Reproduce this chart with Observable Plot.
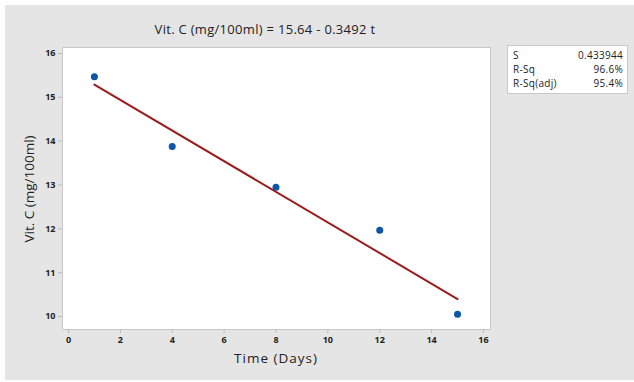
<!DOCTYPE html>
<html>
<head>
<meta charset="utf-8">
<script src="https://cdn.jsdelivr.net/npm/d3@7"></script>
<script src="https://cdn.jsdelivr.net/npm/@observablehq/plot@0.6"></script>
<style>
  html, body { margin: 0; padding: 0; background: #fff; }
  #wrap { position: relative; width: 634px; height: 382px; overflow: hidden; background: #fff; }
  #panel { position: absolute; left: 5px; top: 5px; width: 629px; height: 375px; background: #e5e5e5; }
  #chart { position: absolute; left: 0; top: 0; }
  #title { position: absolute; left: 40px; width: 450px; top: 20px; text-align: center; letter-spacing: 0.3px;
           font-family: "Open Sans", "DejaVu Sans", sans-serif; font-size: 13px; font-weight: 500; color: #222; white-space: nowrap; }
  #stats { position: absolute; left: 507px; top: 45px; width: 121px; height: 49px; background: #fff;
           border: 1px solid #c8c8c8; box-sizing: border-box; padding: 2px 4px 0 5px; letter-spacing: 0.3px;
           font-family: "Open Sans", "DejaVu Sans", sans-serif; font-size: 10px; color: #222; line-height: 14px; }
  #stats div { display: flex; justify-content: space-between; }
</style>
</head>
<body>
<div id="wrap">
  <div id="panel"></div>
  <div id="chart"></div>
  <div id="title"></div>
  <div id="stats"></div>
</div>
<script>
// Data
const days = [1, 4, 8, 12, 15];
const vitC = [15.47, 13.88, 12.95, 11.97, 10.05];
// Fitted line endpoints (Vit. C = 15.64 - 0.3492 t) at t = 1 and t = 15
const fitDays = [1, 15];
const fitVitC = [15.29, 10.40];
const xTicks = [0, 2, 4, 6, 8, 10, 12, 14, 16];
const yTicks = [10, 11, 12, 13, 14, 15, 16];
const titleText = "Vit. C (mg/100ml) = 15.64 - 0.3492 t";
const xLabel = "Time (Days)";
const yLabel = "Vit. C (mg/100ml)";
const statLabels = ["S", "R-Sq", "R-Sq(adj)"];
const statValues = ["0.433944", "96.6%", "95.4%"];

const points = days.map((d, i) => ({t: d, v: vitC[i]}));
const fit = fitDays.map((d, i) => ({t: d, v: fitVitC[i]}));

const chart = Plot.plot({
  width: 634,
  height: 382,
  marginLeft: 62,
  marginRight: 144,
  marginTop: 47,
  marginBottom: 53,
  style: {background: "transparent", fontFamily: "'Open Sans', 'DejaVu Sans', sans-serif", color: "#222"},
  x: {domain: [-0.23, 16.27], ticks: xTicks, label: null},
  y: {domain: [9.705, 16.136], ticks: yTicks, label: null},
  marks: [
    Plot.frame({fill: "white", stroke: "#c8c8c8"}),
    Plot.axisX({ticks: xTicks, tickSize: 4, tickPadding: 3, stroke: "#bbb", fontSize: 9, fontWeight: "bold", label: null, tickFormat: d => d}),
    Plot.axisY({ticks: yTicks, tickSize: 4, tickPadding: 3, stroke: "#bbb", fontSize: 9, fontWeight: "bold", label: null, tickFormat: d => d}),
    Plot.line(fit, {x: "t", y: "v", stroke: "#9b1c1c", strokeWidth: 2}),
    Plot.dot(points, {x: "t", y: "v", r: 3.5, fill: "#0b56a8", stroke: "none"})
  ]
});
const svg = d3.select(chart);
svg.append("text")
  .attr("x", 276).attr("y", 359)
  .attr("text-anchor", "middle")
  .attr("dominant-baseline", "middle")
  .attr("font-size", 13.5)
  .attr("font-weight", 500)
  .attr("letter-spacing", "1px")
  .attr("fill", "#222")
  .text(xLabel);
svg.append("text")
  .attr("transform", "translate(30,189) rotate(-90)")
  .attr("text-anchor", "middle")
  .attr("dominant-baseline", "middle")
  .attr("font-size", 13.5)
  .attr("font-weight", 500)
  .attr("fill", "#222")
  .text(yLabel);
document.getElementById("chart").appendChild(chart);
document.getElementById("title").textContent = titleText;
const stats = document.getElementById("stats");
statLabels.forEach((l, i) => {
  const row = document.createElement("div");
  const a = document.createElement("span"); a.textContent = l;
  const b = document.createElement("span"); b.textContent = statValues[i];
  row.appendChild(a); row.appendChild(b);
  stats.appendChild(row);
});
</script>
</body>
</html>
